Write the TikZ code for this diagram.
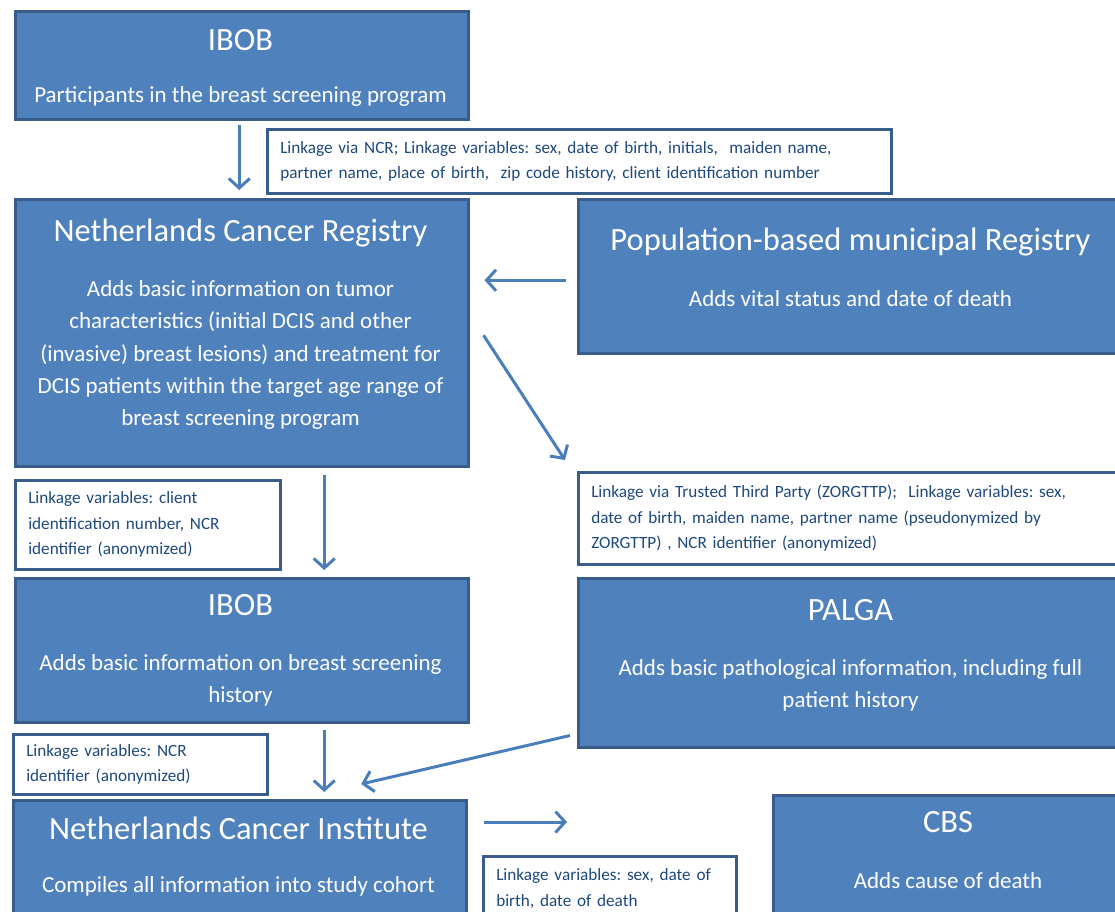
\documentclass[tikz,border=0pt]{standalone}
\usepackage{fontspec}
\setmainfont{Carlito}
\usetikzlibrary{arrows.meta,calc}
\frenchspacing
\definecolor{boxfill}{HTML}{4F81BD}
\definecolor{boxline}{HTML}{385D8A}
\definecolor{arrcol}{HTML}{4A7EBB}
\definecolor{smalltxt}{HTML}{1F497D}
\tikzset{
 bluebox/.style={draw=boxline, fill=boxfill, line width=2.5pt, anchor=north west, inner sep=0pt},
 linkbox/.style={draw=boxline, fill=white, line width=2.5pt, anchor=north west, inner xsep=13pt, inner ysep=0pt, align=left, text=smalltxt, font=\fontsize{17.2}{25.5}\selectfont\frenchspacing},
 titletext/.style={text=white, font=\fontsize{32.5}{38}\selectfont, inner sep=0pt},
 bodytext/.style={text=white, font=\fontsize{23}{32.2}\selectfont, align=center, inner sep=0pt},
 arr/.style={draw=arrcol, line width=3pt, -{Straight Barb[length=9.5pt,width=21pt,line width=3pt]}}
}
\begin{document}
\begin{tikzpicture}[x=1pt,y=-1pt]
\useasboundingbox (0,0) rectangle (1115,911);
\clip (0,0) rectangle (1115,911);

\node[bluebox, minimum width=453pt, minimum height=108pt] (ibob1) at (14,10) {};
\node[titletext] (ibob1t) at (240.5,40) {IBOB};
\node[bodytext] (ibob1b) at (240.5,96.5) {Participants in the breast screening program};

\node[linkbox, text width=598pt, minimum height=64pt] (link1) at (266,128) {Linkage via NCR; Linkage variables: sex, date of birth, initials,\ \ maiden name,\\partner name, place of birth,\ \ zip code history, client identification number};

\node[bluebox, minimum width=453pt, minimum height=267pt] (ncr) at (14,198) {};
\node[titletext] (ncrt) at (240.5,233) {Netherlands Cancer Registry};
\node[bodytext] (ncrb) at (240.5,355) {Adds basic information on tumor\\characteristics (initial DCIS and other\\(invasive) breast lesions) and treatment for\\DCIS patients within the target age range of\\breast screening program};

\node[bluebox, minimum width=547pt, minimum height=154pt] (pmr) at (577,198) {};
\node[titletext] (pmrt) at (850.5,242) {Population-based municipal Registry};
\node[bodytext] (pmrb) at (850.5,299) {Adds vital status and date of death};

\node[linkbox, text width=239pt, minimum height=89pt] (link2) at (14,479) {Linkage variables: client\\identification number, NCR\\identifier (anonymized)};
\node[linkbox, text width=521pt, minimum height=92pt] (zorg) at (577,471) {Linkage via Trusted Third Party (ZORGTTP);\ \ Linkage variables: sex,\\date of birth, maiden name, partner name (pseudonymized by\\ZORGTTP) , NCR identifier (anonymized)};

\node[bluebox, minimum width=453pt, minimum height=144pt] (ibob2) at (14,577) {};
\node[titletext] (ibob2t) at (240.5,605) {IBOB};
\node[bodytext] (ibob2b) at (240.5,680) {Adds basic information on breast screening\\history};

\node[bluebox, minimum width=547pt, minimum height=169pt] (palga) at (577,577) {};
\node[titletext] (palgat) at (850.5,610) {PALGA};
\node[bodytext] (palgab) at (850.5,685) {Adds basic pathological information, including full\\patient history};

\node[linkbox, text width=228pt, minimum height=60pt] (link3) at (12,733) {Linkage variables: NCR\\identifier (anonymized)};

\node[bluebox, minimum width=453pt, minimum height=150pt] (nki) at (12,799) {};
\node[titletext] (nkit) at (238.5,828) {Netherlands Cancer Institute};
\node[bodytext] (nkib) at (238.5,886) {Compiles all information into study cohort};

\node[linkbox, text width=227pt, minimum height=65pt] (link4) at (482,855) {Linkage variables: sex, date of\\birth, date of death};

\node[bluebox, minimum width=352pt, minimum height=150pt] (cbs) at (772,794) {};
\node[titletext] (cbst) at (948,822) {CBS};
\node[bodytext] (cbsb) at (948,881) {Adds cause of death};

\draw[arr] ([shift={(-2.5,4)}]ibob1.south) -- ([shift={(-2.5,-8)}]ncr.north);
\draw[arr] ([shift={(-11,4)}]pmr.west) -- ([shift={(15,-52.5)}]ncr.east);
\draw[arr] ([shift={(14,2.5)}]ncr.east) -- ([shift={(-12,-11)}]zorg.north west);
\draw[arr] ([shift={(82.5,7)}]ncr.south) -- ([shift={(82.5,-7)}]ibob2.north);
\draw[arr] ([shift={(-7,-13)}]palga.south west) -- ([shift={(121.5,-15)}]nki.north);
\draw[arr] ([shift={(82.5,6)}]ibob2.south) -- ([shift={(84.5,-7)}]nki.north);
\draw[arr] ([shift={(16,23)}]nki.north east) -- ([shift={(-205,28)}]cbs.north west);
\end{tikzpicture}
\end{document}
